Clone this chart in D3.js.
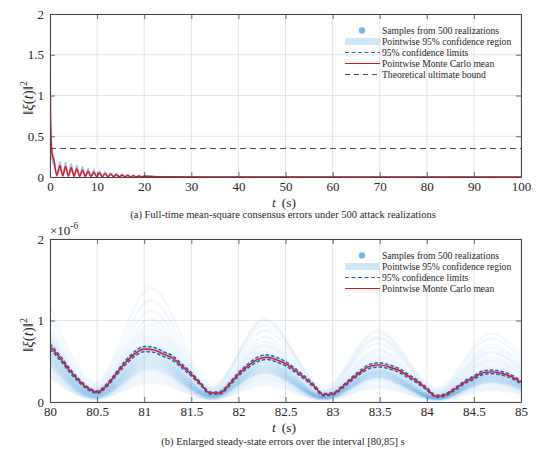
<!DOCTYPE html>
<html>
<head>
<meta charset="utf-8">
<script src="https://cdn.jsdelivr.net/npm/d3@7/dist/d3.min.js"></script>
<style>
body{margin:0;background:#fff;}
text{font-family:"Liberation Serif","Times New Roman",serif;fill:#262626;}
</style>
</head>
<body>
<div id="chart"></div>
<script>
// ---- panel (a): full time ----
const fullTimes = [0, 0.1, 0.25, 0.5, 0.85, 1.45, 2.1, 2.7, 3.3, 3.9, 4.5, 5.1, 5.7, 6.3, 6.9, 7.5, 8.1, 8.7, 9.3, 9.9,
  10.5, 11.1, 11.7, 12.3, 12.9, 13.5, 14.1, 14.7, 15.3, 15.9, 16.5, 17.1, 17.7, 18.3, 18.9, 19.5, 20.1, 23, 30, 100];
const fullMean = [2.0, 0.9, 0.42, 0.27, 0.2, 0.02, 0.14, 0.015, 0.13, 0.012, 0.115, 0.01, 0.1, 0.009, 0.085, 0.008, 0.072, 0.007, 0.06, 0.006,
  0.05, 0.005, 0.042, 0.004, 0.035, 0.004, 0.029, 0.003, 0.024, 0.003, 0.02, 0.002, 0.016, 0.002, 0.013, 0.002, 0.01, 0.003, 0.001, 0.0005];
const fullHigh = [2.0, 1.0, 0.55, 0.34, 0.26, 0.05, 0.19, 0.05, 0.185, 0.045, 0.17, 0.04, 0.15, 0.035, 0.13, 0.03, 0.11, 0.026, 0.095, 0.022,
  0.08, 0.019, 0.068, 0.016, 0.058, 0.014, 0.048, 0.012, 0.04, 0.01, 0.034, 0.009, 0.028, 0.008, 0.023, 0.007, 0.019, 0.008, 0.003, 0.001];
const fullLow = [2.0, 0.8, 0.3, 0.18, 0.13, 0.005, 0.09, 0.004, 0.085, 0.003, 0.075, 0.003, 0.065, 0.002, 0.055, 0.002, 0.047, 0.002, 0.039, 0.001,
  0.032, 0.001, 0.027, 0.001, 0.022, 0.001, 0.018, 0.001, 0.015, 0.001, 0.012, 0.0005, 0.01, 0.0005, 0.008, 0.0005, 0.006, 0.001, 0.0005, 0.0002];
const ultimateBound = 0.35;
const fullXTicks = [0, 10, 20, 30, 40, 50, 60, 70, 80, 90, 100];
const fullYTicks = [0, 0.5, 1, 1.5, 2];

// ---- panel (b): zoom 80..85 s, values in units of 1e-6 ----
const zoomTimes = [80.0, 80.1, 80.2, 80.3, 80.4, 80.5, 80.6, 80.7, 80.8, 80.9,
  81.0, 81.1, 81.2, 81.3, 81.4, 81.5, 81.6, 81.7, 81.8, 81.9,
  82.0, 82.1, 82.2, 82.3, 82.4, 82.5, 82.6, 82.7, 82.8, 82.9,
  83.0, 83.1, 83.2, 83.3, 83.4, 83.5, 83.6, 83.7, 83.8, 83.9,
  84.0, 84.1, 84.2, 84.3, 84.4, 84.5, 84.6, 84.7, 84.8, 84.9, 85.0];
const zoomMean = [0.68, 0.55, 0.40, 0.27, 0.17, 0.12, 0.20, 0.34, 0.48, 0.59,
  0.65, 0.64, 0.59, 0.54, 0.44, 0.34, 0.22, 0.11, 0.11, 0.21,
  0.34, 0.44, 0.52, 0.55, 0.52, 0.47, 0.39, 0.30, 0.20, 0.09,
  0.10, 0.18, 0.28, 0.37, 0.44, 0.455, 0.43, 0.39, 0.32, 0.25,
  0.16, 0.07, 0.09, 0.16, 0.24, 0.30, 0.36, 0.37, 0.35, 0.31, 0.24];
const zoomCiHalf = [0.032, 0.028, 0.024, 0.020, 0.017, 0.015, 0.018, 0.022, 0.026, 0.030,
  0.032, 0.031, 0.030, 0.028, 0.025, 0.022, 0.018, 0.014, 0.014, 0.018,
  0.022, 0.025, 0.028, 0.029, 0.028, 0.026, 0.024, 0.021, 0.018, 0.013,
  0.014, 0.017, 0.020, 0.023, 0.025, 0.026, 0.025, 0.024, 0.022, 0.019,
  0.016, 0.012, 0.013, 0.016, 0.019, 0.021, 0.023, 0.023, 0.022, 0.021, 0.019];
// sample realizations, read at the peaks and troughs
const sampleTimes = [80, 80.48, 81.07, 81.72, 82.28, 82.91, 83.48, 84.11, 84.68, 85];
const sampleRuns = [
  [1.18, 0.24, 1.40, 0.21, 1.00, 0.19, 0.88, 0.17, 0.84, 0.58],
  [1.05, 0.22, 1.25, 0.18, 0.95, 0.17, 0.80, 0.15, 0.78, 0.52],
  [0.95, 0.20, 1.12, 0.17, 0.88, 0.15, 0.85, 0.14, 0.70, 0.47],
  [0.90, 0.18, 1.02, 0.16, 1.02, 0.14, 0.72, 0.13, 0.66, 0.44],
  [0.86, 0.17, 0.95, 0.15, 0.80, 0.13, 0.78, 0.12, 0.62, 0.41],
  [0.82, 0.16, 0.90, 0.14, 0.74, 0.12, 0.65, 0.11, 0.60, 0.40],
  [0.80, 0.15, 0.86, 0.13, 0.70, 0.12, 0.62, 0.10, 0.55, 0.37],
  [0.78, 0.15, 0.82, 0.12, 0.68, 0.11, 0.58, 0.10, 0.52, 0.35],
  [0.76, 0.14, 0.78, 0.12, 0.64, 0.10, 0.55, 0.09, 0.50, 0.33],
  [0.74, 0.13, 0.75, 0.11, 0.62, 0.10, 0.52, 0.09, 0.47, 0.31],
  [0.72, 0.13, 0.72, 0.11, 0.60, 0.09, 0.50, 0.08, 0.44, 0.29],
  [0.70, 0.12, 0.70, 0.10, 0.58, 0.09, 0.48, 0.08, 0.42, 0.28],
  [0.69, 0.13, 0.66, 0.10, 0.55, 0.08, 0.46, 0.07, 0.38, 0.25],
  [0.68, 0.12, 0.68, 0.10, 0.56, 0.08, 0.46, 0.07, 0.40, 0.27],
  [0.67, 0.12, 0.63, 0.10, 0.53, 0.08, 0.44, 0.07, 0.36, 0.24],
  [0.66, 0.11, 0.64, 0.09, 0.54, 0.08, 0.44, 0.07, 0.38, 0.26],
  [0.64, 0.11, 0.62, 0.09, 0.52, 0.07, 0.42, 0.06, 0.36, 0.25],
  [0.63, 0.11, 0.59, 0.09, 0.50, 0.07, 0.41, 0.06, 0.34, 0.22],
  [0.62, 0.10, 0.60, 0.08, 0.50, 0.07, 0.40, 0.06, 0.35, 0.24],
  [0.61, 0.10, 0.57, 0.09, 0.48, 0.07, 0.40, 0.06, 0.33, 0.22],
  [0.60, 0.10, 0.58, 0.08, 0.48, 0.07, 0.39, 0.06, 0.34, 0.23],
  [0.59, 0.10, 0.55, 0.08, 0.47, 0.06, 0.38, 0.06, 0.32, 0.21],
  [0.58, 0.09, 0.56, 0.08, 0.46, 0.06, 0.38, 0.05, 0.33, 0.22],
  [0.57, 0.09, 0.53, 0.08, 0.45, 0.06, 0.37, 0.05, 0.31, 0.20],
  [0.56, 0.09, 0.54, 0.07, 0.45, 0.06, 0.37, 0.05, 0.32, 0.21],
  [0.55, 0.09, 0.51, 0.07, 0.43, 0.06, 0.36, 0.05, 0.30, 0.20],
  [0.54, 0.08, 0.52, 0.07, 0.44, 0.06, 0.36, 0.05, 0.31, 0.21],
  [0.53, 0.08, 0.49, 0.07, 0.42, 0.05, 0.35, 0.05, 0.29, 0.19],
  [0.52, 0.08, 0.50, 0.07, 0.42, 0.05, 0.35, 0.05, 0.30, 0.20],
  [0.51, 0.08, 0.47, 0.07, 0.40, 0.05, 0.33, 0.04, 0.28, 0.18],
  [0.50, 0.07, 0.48, 0.06, 0.41, 0.05, 0.34, 0.04, 0.29, 0.19],
  [0.49, 0.07, 0.45, 0.06, 0.39, 0.05, 0.32, 0.04, 0.27, 0.18],
  [0.48, 0.07, 0.46, 0.06, 0.40, 0.05, 0.33, 0.04, 0.28, 0.18],
  [0.47, 0.07, 0.43, 0.06, 0.37, 0.05, 0.31, 0.04, 0.26, 0.17],
  [0.46, 0.06, 0.44, 0.06, 0.38, 0.05, 0.32, 0.04, 0.27, 0.18],
  [0.45, 0.06, 0.41, 0.06, 0.36, 0.04, 0.30, 0.04, 0.25, 0.16],
  [0.44, 0.06, 0.42, 0.05, 0.37, 0.04, 0.31, 0.04, 0.26, 0.17],
  [0.42, 0.06, 0.40, 0.05, 0.35, 0.04, 0.30, 0.04, 0.25, 0.16],
  [0.40, 0.05, 0.38, 0.05, 0.33, 0.04, 0.28, 0.03, 0.24, 0.15],
  [0.38, 0.05, 0.36, 0.04, 0.31, 0.04, 0.27, 0.03, 0.23, 0.15],
  [0.36, 0.05, 0.33, 0.04, 0.29, 0.03, 0.25, 0.03, 0.21, 0.14],
  [0.34, 0.04, 0.30, 0.04, 0.27, 0.03, 0.23, 0.03, 0.19, 0.13],
  [0.32, 0.04, 0.27, 0.03, 0.24, 0.03, 0.20, 0.02, 0.17, 0.12],
  [0.30, 0.03, 0.24, 0.03, 0.21, 0.02, 0.18, 0.02, 0.15, 0.10]
];
const zoomXTicks = [80, 80.5, 81, 81.5, 82, 82.5, 83, 83.5, 84, 84.5, 85];
const zoomYTicks = [0, 1, 2];

const legendFull = ["Samples from 500 realizations", "Pointwise 95% confidence region", "95% confidence limits",
  "Pointwise Monte Carlo mean", "Theoretical ultimate bound"];
const legendZoom = legendFull.slice(0, 4);

const W = 552, H = 461;
const colors = {mean: "#e01414", ci: "#2462bd", band: "#a9d4f5", legBand: "#cfe6f8", dot: "#7ab6e6", sample: "#4d9fe6", bound: "#4d4d4d", grid: "#dedede", axis: "#454545"};

const svg = d3.select("#chart").append("svg").attr("width", W).attr("height", H)
  .attr("font-family", "'Liberation Serif', 'Times New Roman', serif");

function panel(o) {
  const x = d3.scaleLinear().domain(o.xDomain).range([50, 521]);
  const y = d3.scaleLinear().domain(o.yDomain).range([o.bottom, o.top]);
  const g = svg.append("g");
  const clipId = "clip" + o.id;
  g.append("clipPath").attr("id", clipId).append("rect")
    .attr("x", 50).attr("y", o.top).attr("width", 471).attr("height", o.bottom - o.top);

  // grid
  g.selectAll(".gx").data(o.xTicks).enter().append("line")
    .attr("x1", d => x(d)).attr("x2", d => x(d)).attr("y1", o.top).attr("y2", o.bottom)
    .attr("stroke", colors.grid).attr("stroke-width", 0.8);
  g.selectAll(".gy").data(o.yTicks).enter().append("line")
    .attr("x1", 50).attr("x2", 521).attr("y1", d => y(d)).attr("y2", d => y(d))
    .attr("stroke", colors.grid).attr("stroke-width", 0.8);

  const plot = g.append("g").attr("clip-path", "url(#" + clipId + ")");
  o.draw(plot, x, y);

  // axes, ticks inward on all four sides
  const fmt = d => String(d);
  const ax = [
    [d3.axisBottom(x).tickValues(o.xTicks).tickSizeInner(-5).tickSizeOuter(0).tickPadding(5).tickFormat(fmt), "translate(0," + o.bottom + ")"],
    [d3.axisTop(x).tickValues(o.xTicks).tickSizeInner(-5).tickSizeOuter(0).tickFormat(""), "translate(0," + o.top + ")"],
    [d3.axisLeft(y).tickValues(o.yTicks).tickSizeInner(-5).tickSizeOuter(0).tickPadding(6).tickFormat(fmt), "translate(50,0)"],
    [d3.axisRight(y).tickValues(o.yTicks).tickSizeInner(-5).tickSizeOuter(0).tickFormat(""), "translate(521,0)"]
  ];
  ax.forEach(a => {
    const s = g.append("g").attr("transform", a[1]).call(a[0])
      .attr("font-family", "'Liberation Serif', 'Times New Roman', serif").attr("font-size", 13);
    s.select(".domain").attr("stroke", colors.axis).attr("stroke-width", 1);
    s.selectAll(".tick line").attr("stroke", colors.axis).attr("stroke-width", 0.8);
    s.selectAll(".tick text").attr("fill", "#262626");
  });

  // labels
  const yl = g.append("text").attr("transform", "translate(33," + o.yLabelY + ") rotate(-90)")
    .attr("text-anchor", "middle").style("font-size", "15px");
  yl.append("tspan").text("\u2016");
  yl.append("tspan").style("font-style", "italic").text("\u03BE");
  yl.append("tspan").text("(");
  yl.append("tspan").style("font-style", "italic").text("t");
  yl.append("tspan").text(")\u2016");
  yl.append("tspan").attr("dy", -6).style("font-size", "10px").text("2");

  const xl = g.append("text").attr("x", 284).attr("y", o.bottom + 30).attr("text-anchor", "middle").style("font-size", "13.5px");
  xl.append("tspan").style("font-style", "italic").text("t");
  xl.append("tspan").text("\u2009 (s)");

  g.append("text").attr("x", 283).attr("y", o.captionY).attr("text-anchor", "middle").style("font-size", "10.5px").text(o.caption);

  // legend
  const lg = g.append("g").attr("transform", "translate(345," + o.legendY + ")");
  const rows = lg.selectAll("g").data(o.legend).enter().append("g")
    .attr("transform", (d, i) => "translate(0," + (i * 11) + ")");
  rows.append("text").attr("x", 37).attr("y", 3.3).style("font-size", "9.6px").text(d => d);
  rows.each(function (d, i) {
    const r = d3.select(this);
    if (i === 0) r.append("circle").attr("cx", 17).attr("cy", 0).attr("r", 3.2).attr("fill", colors.dot);
    if (i === 1) r.append("rect").attr("x", 0).attr("y", -3.5).attr("width", 35).attr("height", 7).attr("fill", colors.legBand);
    if (i === 2) r.append("line").attr("x1", 0).attr("x2", 35).attr("stroke", colors.ci).attr("stroke-width", 1).attr("stroke-dasharray", "4,2.5");
    if (i === 3) r.append("line").attr("x1", 0).attr("x2", 35).attr("stroke", colors.mean).attr("stroke-width", 1.2);
    if (i === 4) r.append("line").attr("x1", 0).attr("x2", 35).attr("stroke", colors.bound).attr("stroke-width", 1).attr("stroke-dasharray", "5,4");
  });
  return g;
}

// panel (a)
panel({
  id: "a", xDomain: [0, 100], yDomain: [0, 2], top: 14, bottom: 177,
  xTicks: fullXTicks, yTicks: fullYTicks, yLabelY: 98, captionY: 218, legendY: 30.5,
  caption: "(a) Full-time mean-square consensus errors under 500 attack realizations",
  legend: legendFull,
  draw: (p, x, y) => {
    const idx = d3.range(fullTimes.length);
    p.append("path").datum(idx).attr("fill", colors.band)
      .attr("d", d3.area().curve(d3.curveMonotoneX).x(i => x(fullTimes[i])).y0(i => y(fullLow[i])).y1(i => y(fullHigh[i])));
    [fullLow, fullHigh].forEach(arr => {
      p.append("path").datum(idx).attr("fill", "none").attr("stroke", colors.ci).attr("stroke-width", 0.6).attr("stroke-opacity", 0.5)
        .attr("d", d3.line().curve(d3.curveMonotoneX).x(i => x(fullTimes[i])).y(i => y(arr[i])));
    });
    p.append("line").attr("x1", x(0)).attr("x2", x(100)).attr("y1", y(ultimateBound)).attr("y2", y(ultimateBound))
      .attr("stroke", colors.bound).attr("stroke-width", 1.1).attr("stroke-dasharray", "6,4");
    p.append("path").datum(idx).attr("fill", "none").attr("stroke", colors.mean).attr("stroke-width", 1.4)
      .attr("d", d3.line().curve(d3.curveMonotoneX).x(i => x(fullTimes[i])).y(i => y(fullMean[i])));
  }
});

// panel (b)
const zb = panel({
  id: "b", xDomain: [80, 85], yDomain: [0, 2], top: 239, bottom: 402,
  xTicks: zoomXTicks, yTicks: zoomYTicks, yLabelY: 335, captionY: 445, legendY: 255.5,
  caption: "(b) Enlarged steady-state errors over the interval [80,85] s",
  legend: legendZoom,
  draw: (p, x, y) => {
    const sLine = d3.line().curve(d3.curveMonotoneX).x((d, i) => x(sampleTimes[i])).y(d => y(d));
    p.selectAll(".run").data(sampleRuns).enter().append("path")
      .attr("fill", "none").attr("stroke", colors.sample).attr("stroke-width", 2.2).attr("stroke-opacity", 0.075)
      .attr("d", sLine);
    const idx = d3.range(zoomTimes.length);
    p.append("path").datum(idx).attr("fill", colors.band).attr("opacity", 0.8)
      .attr("d", d3.area().curve(d3.curveMonotoneX).x(i => x(zoomTimes[i]))
        .y0(i => y(zoomMean[i] - zoomCiHalf[i])).y1(i => y(zoomMean[i] + zoomCiHalf[i])));
    [-1, 1].forEach(s => {
      p.append("path").datum(idx).attr("fill", "none").attr("stroke", colors.ci).attr("stroke-width", 1.5).attr("stroke-dasharray", "3.5,2")
        .attr("d", d3.line().curve(d3.curveMonotoneX).x(i => x(zoomTimes[i])).y(i => y(zoomMean[i] + s * zoomCiHalf[i])));
    });
    p.append("path").datum(idx).attr("fill", "none").attr("stroke", colors.mean).attr("stroke-width", 1.4)
      .attr("d", d3.line().curve(d3.curveMonotoneX).x(i => x(zoomTimes[i])).y(i => y(zoomMean[i])));
  }
});

// exponent label of panel (b)
const ex = zb.append("text").attr("x", 50).attr("y", 235).style("font-size", "13px");
ex.append("tspan").text("\u00D710");
ex.append("tspan").attr("dy", -6).style("font-size", "9.5px").text("-6");
</script>
</body>
</html>
